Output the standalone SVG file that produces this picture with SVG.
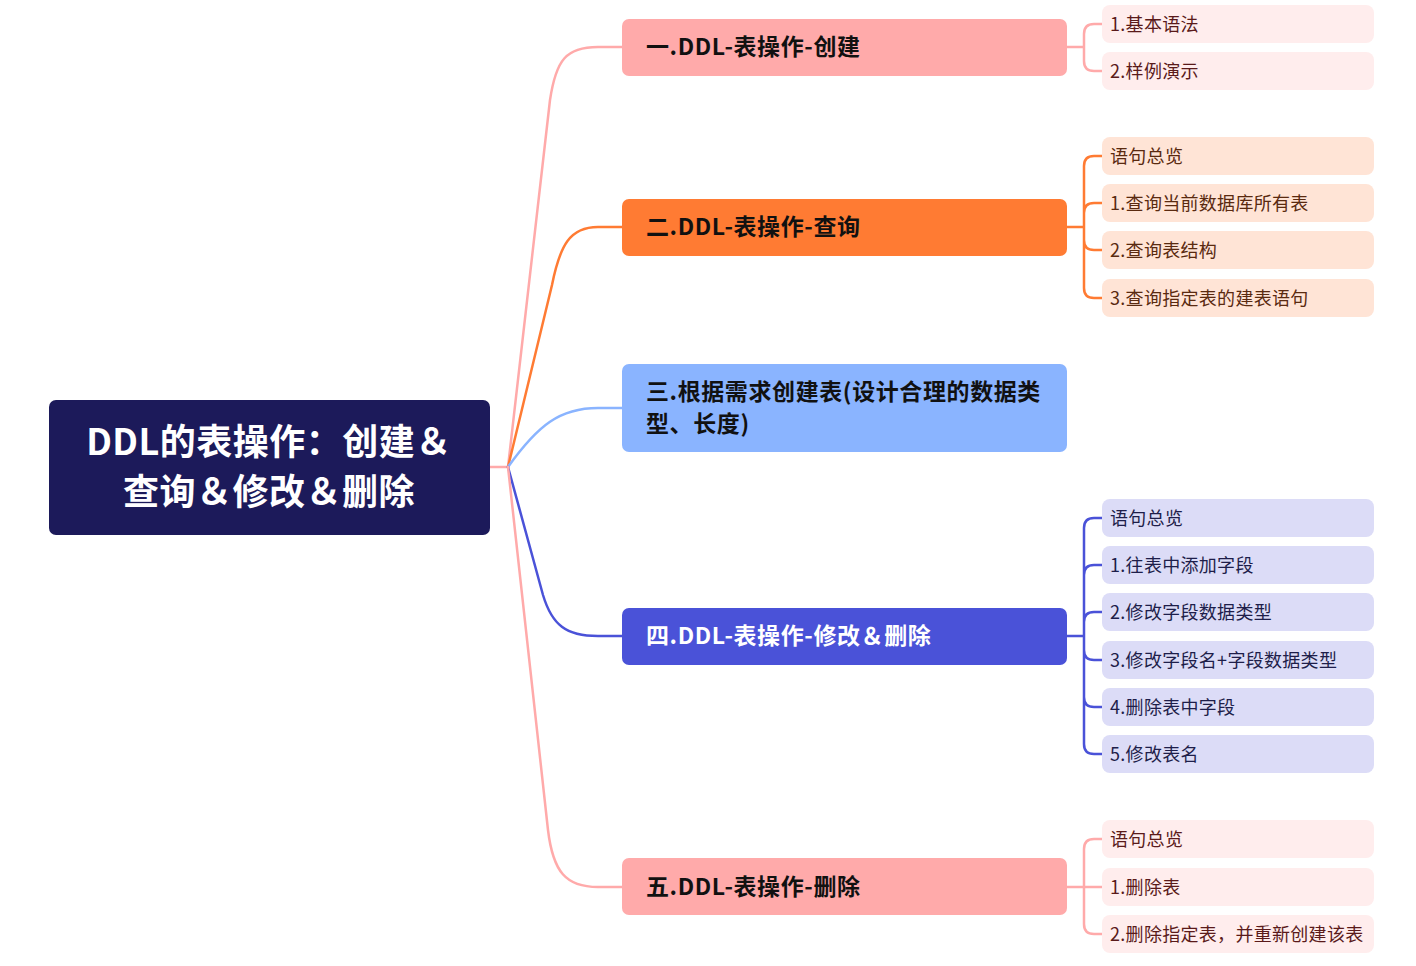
<svg xmlns="http://www.w3.org/2000/svg" width="1416" height="966" viewBox="0 0 1416 966">
<style>
text{font-family:"Noto Sans CJK SC","Noto Sans",sans-serif;}
.root{font-size:36px;font-weight:700;fill:#fff;letter-spacing:0.5px;}
.br{font-size:23px;font-weight:700;fill:#111;letter-spacing:0.6px;}
.lf{font-size:18px;letter-spacing:0.3px;}
.c{fill:none;stroke-width:2.5;stroke-linecap:round;stroke-linejoin:round;}
</style>
<rect width="1416" height="966" fill="#fff"/>
<g id="connectors">
<path class="c" stroke="#FFAAAA" d="M490,467 L508,467"/>
<path class="c" stroke="#FFAAAA" d="M508,467 L550,100 C556,60 566,47 598,47 L622,47"/>
<path class="c" stroke="#FF7B33" d="M508,467 L552,285 C560,245 570,227 598,227 L622,227"/>
<path class="c" stroke="#8AB4FF" d="M508,467 C538,425 560,408 598,408 L622,408"/>
<path class="c" stroke="#4A52D8" d="M508,467 L543,595 C552,625 566,636 598,636 L622,636"/>
<path class="c" stroke="#FFAAAA" d="M508,467 L548,830 C553,872 566,887 598,887 L622,887"/>
<path class="c" stroke="#FFAAAA" d="M1067,47 L1084,47 M1102,24 L1094,24 Q1084,24 1084,34 L1084,61 Q1084,71 1094,71 L1102,71"/>
<path class="c" stroke="#FF7B33" d="M1067,227 L1084,227 M1102,156 L1094,156 Q1084,156 1084,166 L1084,288 Q1084,298 1094,298 L1102,298 M1084,213 Q1084,203 1094,203 L1102,203 M1084,240 Q1084,250 1094,250 L1102,250"/>
<path class="c" stroke="#4A52D8" d="M1067,636 L1084,636 M1102,518 L1094,518 Q1084,518 1084,528 L1084,744 Q1084,754 1094,754 L1102,754 M1084,575 Q1084,565 1094,565 L1102,565 M1084,622 Q1084,612 1094,612 L1102,612 M1084,650 Q1084,660 1094,660 L1102,660 M1084,697 Q1084,707 1094,707 L1102,707"/>
<path class="c" stroke="#FFAAAA" d="M1067,887 L1084,887 M1102,839 L1094,839 Q1084,839 1084,849 L1084,924 Q1084,934 1094,934 L1102,934 M1084,887 L1102,887"/>
</g>
<g id="root">
<rect x="49" y="400" width="441" height="135" rx="7" fill="#1C1A5A"/>
<text class="root" x="269" y="455" text-anchor="middle">DDL的表操作：创建＆</text>
<text class="root" x="269" y="505" text-anchor="middle">查询＆修改＆删除</text>
</g>
<g id="b1">
<rect x="622" y="19" width="445" height="57" rx="7" fill="#FFAAAA"/>
<text class="br" x="646" y="55">一.DDL-表操作-创建</text>
</g>
<g id="b2">
<rect x="622" y="199" width="445" height="57" rx="7" fill="#FF7B33"/>
<text class="br" x="646" y="235">二.DDL-表操作-查询</text>
</g>
<g id="b3">
<rect x="622" y="364" width="445" height="88" rx="7" fill="#8AB4FF"/>
<text class="br" x="646" y="400">三.根据需求创建表(设计合理的数据类</text>
<text class="br" x="646" y="432">型、长度)</text>
</g>
<g id="b4">
<rect x="622" y="608" width="445" height="57" rx="7" fill="#4A52D8"/>
<text class="br" x="646" y="644" style="fill:#fff">四.DDL-表操作-修改＆删除</text>
</g>
<g id="b5">
<rect x="622" y="858" width="445" height="57" rx="7" fill="#FFAAAA"/>
<text class="br" x="646" y="895">五.DDL-表操作-删除</text>
</g>
<g id="l1a"><rect x="1102" y="5" width="272" height="38" rx="8" fill="#FFEDED"/><text class="lf" x="1110" y="31" fill="#5A1A1A">1.基本语法</text></g>
<g id="l1b"><rect x="1102" y="52" width="272" height="38" rx="8" fill="#FFEDED"/><text class="lf" x="1110" y="78" fill="#5A1A1A">2.样例演示</text></g>
<g id="l2a"><rect x="1102" y="137" width="272" height="38" rx="8" fill="#FFE4D6"/><text class="lf" x="1110" y="163" fill="#5A2A10">语句总览</text></g>
<g id="l2b"><rect x="1102" y="184" width="272" height="38" rx="8" fill="#FFE4D6"/><text class="lf" x="1110" y="210" fill="#5A2A10">1.查询当前数据库所有表</text></g>
<g id="l2c"><rect x="1102" y="231" width="272" height="38" rx="8" fill="#FFE4D6"/><text class="lf" x="1110" y="257" fill="#5A2A10">2.查询表结构</text></g>
<g id="l2d"><rect x="1102" y="279" width="272" height="38" rx="8" fill="#FFE4D6"/><text class="lf" x="1110" y="305" fill="#5A2A10">3.查询指定表的建表语句</text></g>
<g id="l4a"><rect x="1102" y="499" width="272" height="38" rx="8" fill="#DCDCF7"/><text class="lf" x="1110" y="525" fill="#1E1E4A">语句总览</text></g>
<g id="l4b"><rect x="1102" y="546" width="272" height="38" rx="8" fill="#DCDCF7"/><text class="lf" x="1110" y="572" fill="#1E1E4A">1.往表中添加字段</text></g>
<g id="l4c"><rect x="1102" y="593" width="272" height="38" rx="8" fill="#DCDCF7"/><text class="lf" x="1110" y="619" fill="#1E1E4A">2.修改字段数据类型</text></g>
<g id="l4d"><rect x="1102" y="641" width="272" height="38" rx="8" fill="#DCDCF7"/><text class="lf" x="1110" y="667" fill="#1E1E4A">3.修改字段名+字段数据类型</text></g>
<g id="l4e"><rect x="1102" y="688" width="272" height="38" rx="8" fill="#DCDCF7"/><text class="lf" x="1110" y="714" fill="#1E1E4A">4.删除表中字段</text></g>
<g id="l4f"><rect x="1102" y="735" width="272" height="38" rx="8" fill="#DCDCF7"/><text class="lf" x="1110" y="761" fill="#1E1E4A">5.修改表名</text></g>
<g id="l5a"><rect x="1102" y="820" width="272" height="38" rx="8" fill="#FFEDED"/><text class="lf" x="1110" y="846" fill="#5A1A1A">语句总览</text></g>
<g id="l5b"><rect x="1102" y="868" width="272" height="38" rx="8" fill="#FFEDED"/><text class="lf" x="1110" y="894" fill="#5A1A1A">1.删除表</text></g>
<g id="l5c"><rect x="1102" y="915" width="272" height="38" rx="8" fill="#FFEDED"/><text class="lf" x="1110" y="941" fill="#5A1A1A">2.删除指定表，并重新创建该表</text></g>
</svg>
